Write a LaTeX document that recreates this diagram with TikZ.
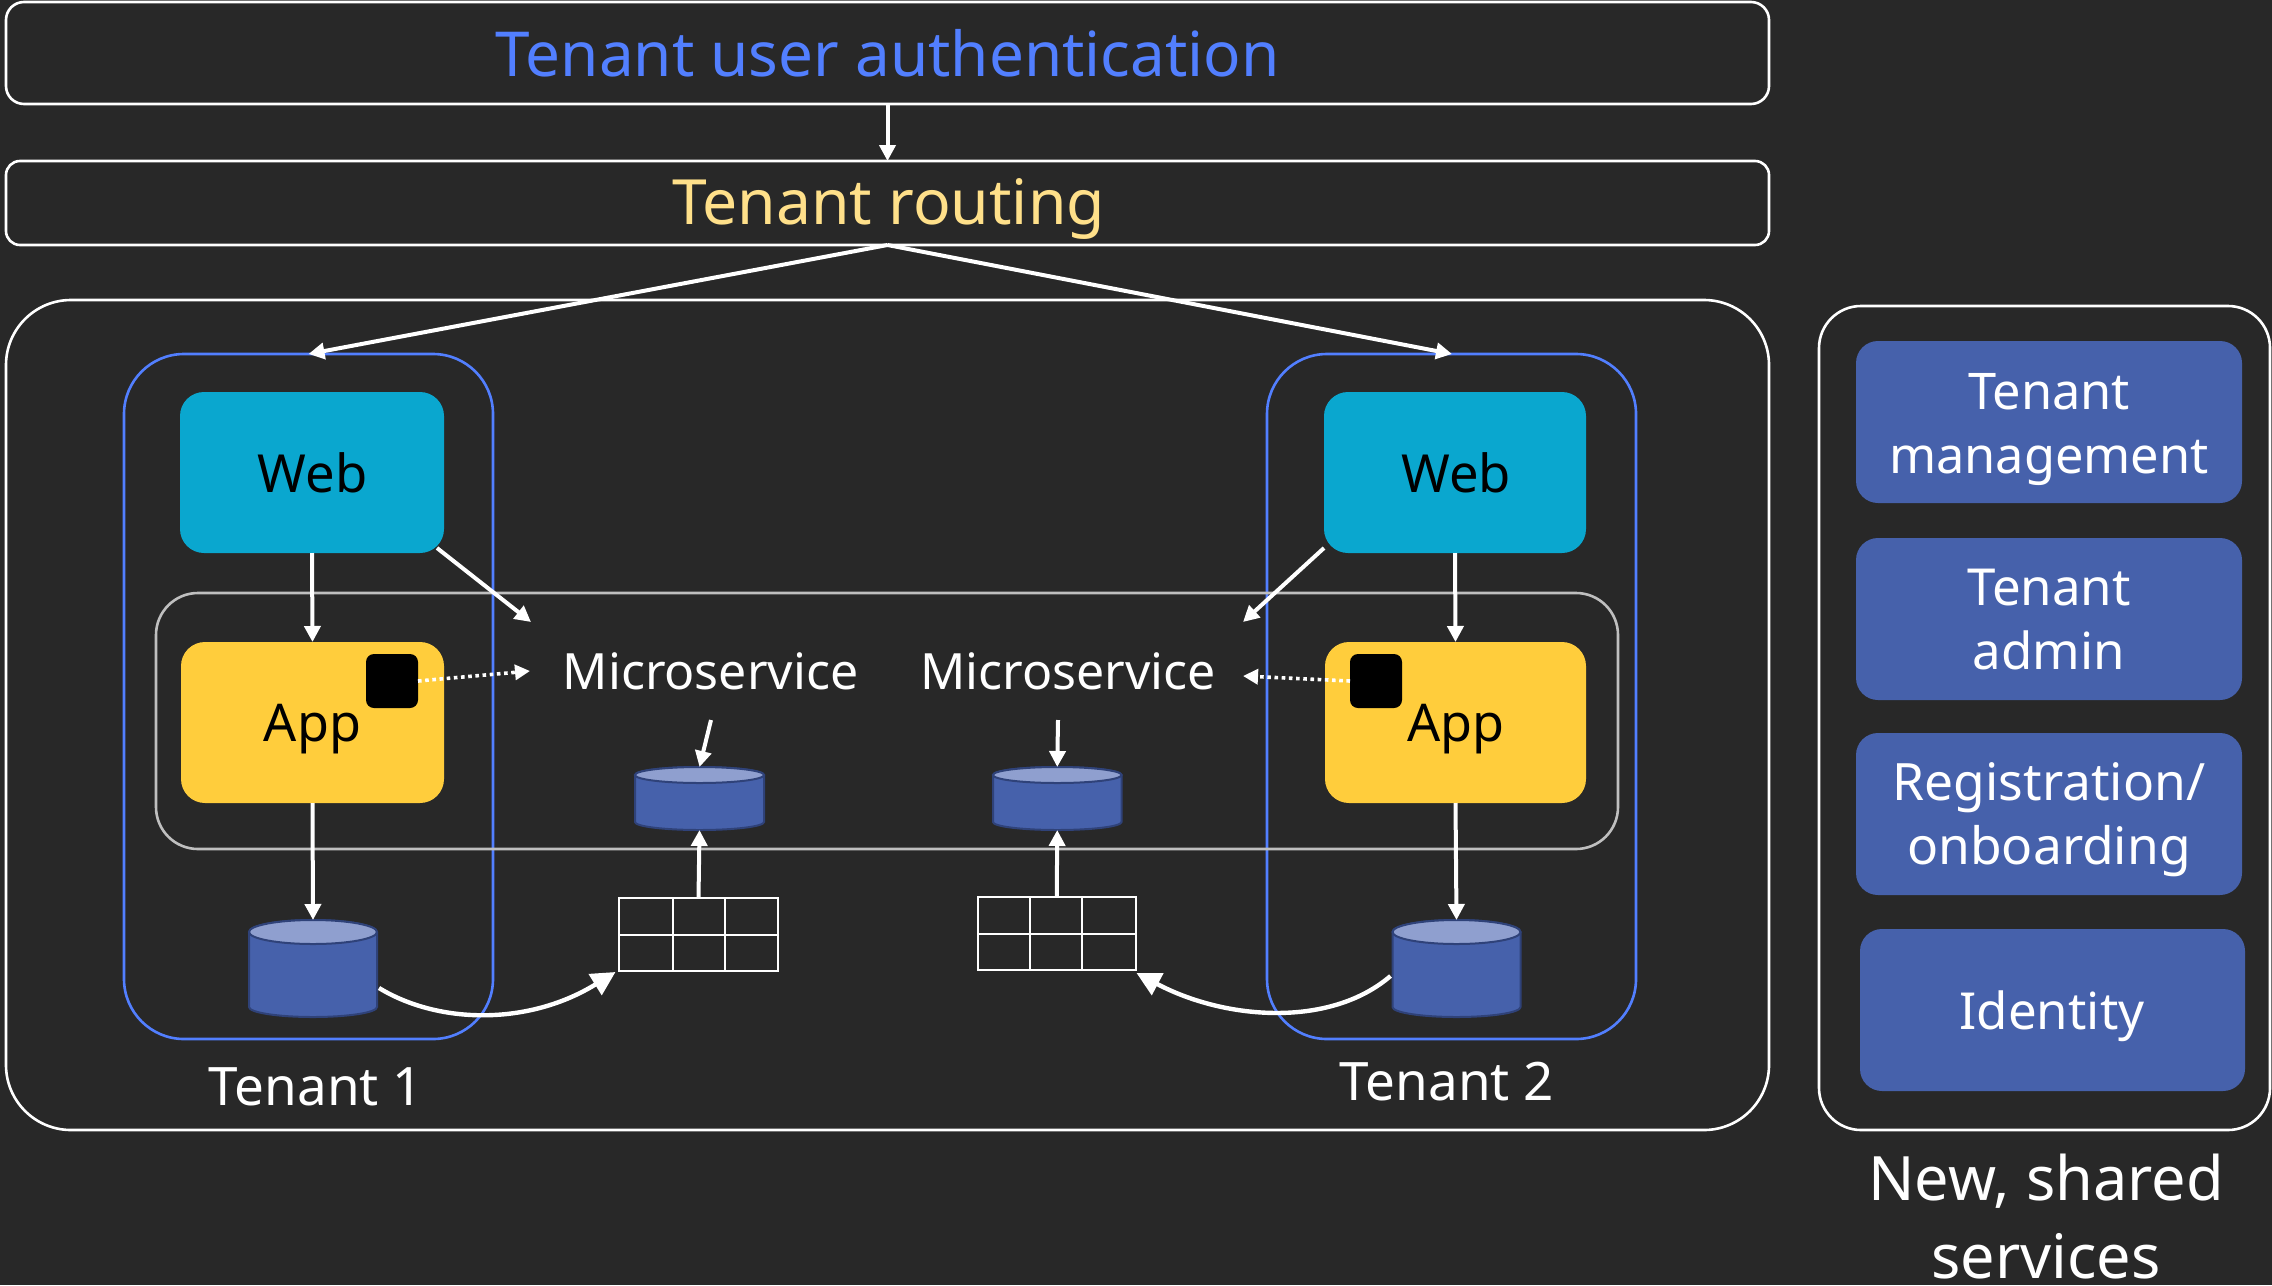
\documentclass[tikz,border=0pt]{standalone}
\usepackage{fontspec}
\setmainfont{Noto Sans}
\usetikzlibrary{arrows.meta}
\definecolor{bg}{HTML}{282828}
\definecolor{bluel}{HTML}{527FFF}
\definecolor{routey}{HTML}{FFE08A}
\definecolor{webc}{HTML}{0AA7CF}
\definecolor{appc}{HTML}{FFCD3C}
\definecolor{svc}{HTML}{4661AB}
\definecolor{cyltop}{HTML}{8F9FCF}
\definecolor{cylb}{HTML}{2F4279}
\definecolor{greyl}{HTML}{BFBFBF}
\tikzset{
 x=1pt,y=-1pt,
 boxbase/.style={rectangle,inner sep=0pt,outer sep=0pt,align=center},
 outline/.style={boxbase,draw=white,line width=2.6pt},
 tenantbox/.style={boxbase,draw=bluel,line width=2.6pt,rounded corners=60pt},
 innerbox/.style={boxbase,draw=greyl,line width=2.6pt,rounded corners=42pt},
 webbox/.style={boxbase,fill=webc,rounded corners=24pt},
 appbox/.style={boxbase,fill=appc,rounded corners=24pt},
 badge/.style={boxbase,fill=black,rounded corners=8pt},
 svcbox/.style={boxbase,fill=svc,rounded corners=22pt},
 txt/.style={inner sep=0pt,outer sep=0pt,align=center,text=white,font=\fontsize{50}{64}\selectfont},
 sz/.style={font=\fontsize{#1}{64}\selectfont},
 gridbox/.style={boxbase,draw=white,line width=2pt},
 gridline/.style={draw=white,line width=2pt},
 arr/.style={draw=white,line width=4pt,-{Triangle[length=16pt,width=16pt]}},
 dotarr/.style={draw=white,line width=3.6pt,dash pattern=on 3.6pt off 3.6pt,-{Triangle[length=15pt,width=15pt]}},
 curvearr/.style={draw=white,line width=4.4pt,-{Triangle[length=24pt,width=24pt]}},
}
\newcommand\bx[6]{\node[#1,minimum width={(#4-#3)*1pt},minimum height={(#6-#5)*1pt}] (#2) at ({(#3+#4)/2},{(#5+#6)/2}) {};}
% name, x1, x2, ytop, ybot, ry top, ry bottom
\newcommand\cyl[7]{%
 \node[inner sep=0pt,outer sep=0pt,minimum width={(#3-#2)*1pt},minimum height={(#5-#4)*1pt}] (#1) at ({(#2+#3)/2},{(#4+#5)/2}) {};
 \draw[fill=svc,draw=cylb,line width=2pt] (#2,#4+#6) -- (#2,#5-#7) arc[start angle=180,end angle=360,x radius={(#3-#2)/2},y radius=-#7] -- (#3,#4+#6) arc[start angle=0,end angle=180,x radius={(#3-#2)/2},y radius=-#6] -- cycle;
 \draw[fill=cyltop,draw=cylb,line width=2pt] ({(#2+#3)/2},#4+#6) ellipse[x radius={(#3-#2)/2},y radius=#6];
}
\newcommand\gridtab[7]{%
 \bx{gridbox}{#1}{#2}{#3}{#4}{#5}
 \draw[gridline] (#6,#4) -- (#6,#5) (#7,#4) -- (#7,#5) (#2,{(#4+#5)/2}) -- (#3,{(#4+#5)/2});
}
\begin{document}
\begin{tikzpicture}
\fill[bg] (0,0) rectangle (2272,1285);
\useasboundingbox (0,0) rectangle (2272,1285);
% top bars
\bx{outline,rounded corners=18pt}{auth}{6}{1769}{2}{104}
\bx{outline,rounded corners=14pt}{route}{6}{1769}{161}{245}
\node[txt,sz=62,text=bluel] (authl) at (887.5,53) {Tenant user authentication};
\node[txt,sz=62.4,text=routey] (routel) at (888.5,209) {Tenant routing};
% containers
\bx{outline,rounded corners=65pt}{silo}{6}{1769}{300}{1130}
\bx{outline,rounded corners=42pt}{shared}{1819}{2270}{306}{1130}
\bx{tenantbox}{t1}{124}{493}{354}{1039}
\bx{tenantbox}{t2}{1267}{1636}{354}{1039}
\bx{innerbox}{inner}{156}{1618}{593}{849}
% compute
\bx{webbox}{web1}{180}{444}{392}{553}
\bx{appbox}{app1}{181}{444}{642}{803}
\bx{webbox}{web2}{1324}{1586}{392}{553}
\bx{appbox}{app2}{1325}{1586}{642}{803}
\node[txt,sz=52.5,text=black] (web1l) at (312.5,473) {Web};
\node[txt,sz=52.5,text=black] (web2l) at (1456,473) {Web};
\node[txt,sz=52,text=black] (app1l) at (312.5,729) {App};
\node[txt,sz=52,text=black] (app2l) at (1456,729) {App};
\bx{badge}{b1}{366}{418}{654}{708}
\bx{badge}{b2}{1350}{1402}{654}{708}
\node[txt,sz=50] (ms1) at (710.5,671) {Microservice};
\node[txt,sz=50] (ms2) at (1068,671) {Microservice};
% storage
\cyl{c1}{249}{377}{920}{1017}{12}{10}
\cyl{c2}{1392.5}{1520.5}{920}{1017}{12}{10}
\cyl{m1}{635}{764}{767}{830}{8}{8}
\cyl{m2}{993}{1121.5}{767}{830}{8}{8}
\gridtab{g1}{619}{778}{898}{971}{673}{725}
\gridtab{g2}{977.5}{1136}{897}{970}{1030}{1082}
% free ends
\coordinate (w1s) at (437,548); \coordinate (w1e) at (531,622);
\coordinate (w2s) at (1324,548); \coordinate (w2e) at (1243,622);
\coordinate (d1e) at (530,671); \coordinate (d2e) at (1243,676);
\coordinate (ms1s) at (711,720); \coordinate (ms2s) at (1058,720);
\coordinate (q1s) at (379,988); \coordinate (q1e) at (615.5,972);
\coordinate (q2s) at (1390.5,976); \coordinate (q2e) at (1136.5,973);
\coordinate (t2top) at (1452,354);
% connectors
\draw[arr] (auth.south) -- (route.north);
\draw[arr] (route.south) -- (t1.north);
\draw[arr] (route.south) -- (t2top);
\draw[arr] (web1.south) -- (app1.north);
\draw[arr] (web2.south) -- (app2.north);
\draw[arr] (app1.south) -- (c1.north);
\draw[arr] (app2.south) -- (c2.north);
\draw[arr] (w1s) -- (w1e);
\draw[arr] (w2s) -- (w2e);
\draw[dotarr] (b1.east) -- (d1e);
\draw[dotarr] (b2.west) -- (d2e);
\draw[arr] (ms1s) -- (m1.north);
\draw[arr] (ms2s) -- (m2.north);
\draw[arr] (g1.north) -- (m1.south);
\draw[arr] (g2.north) -- (m2.south);
\draw[curvearr] (q1s) .. controls (440,1025) and (530,1025) .. (q1e);
\draw[curvearr] (q2s) .. controls (1330,1028) and (1225,1020) .. (q2e);
% labels
\node[txt,sz=53] (lt1) at (316,1087) {Tenant 1};
\node[txt,sz=53] (lt2) at (1447,1082) {Tenant 2};
\node[txt,font=\fontsize{61.2}{78}\selectfont] (lsh) at (2046,1217) {New, shared\\services};
% shared services
\bx{svcbox}{s1}{1856}{2242}{341}{503}
\bx{svcbox}{s2}{1856}{2242}{538}{700}
\bx{svcbox}{s3}{1856}{2242}{733}{895}
\bx{svcbox}{s4}{1860}{2245}{929}{1091}
\node[txt,sz=50.5] (s1l) at (2049,430) {Tenant\\management};
\node[txt,sz=51] (s2l) at (2049,620) {Tenant\\admin};
\node[txt,sz=51.5] (s3l) at (2049,820) {Registration/\\onboarding};
\node[txt,sz=51] (s4l) at (2052,1016) {Identity};
\end{tikzpicture}
\end{document}
